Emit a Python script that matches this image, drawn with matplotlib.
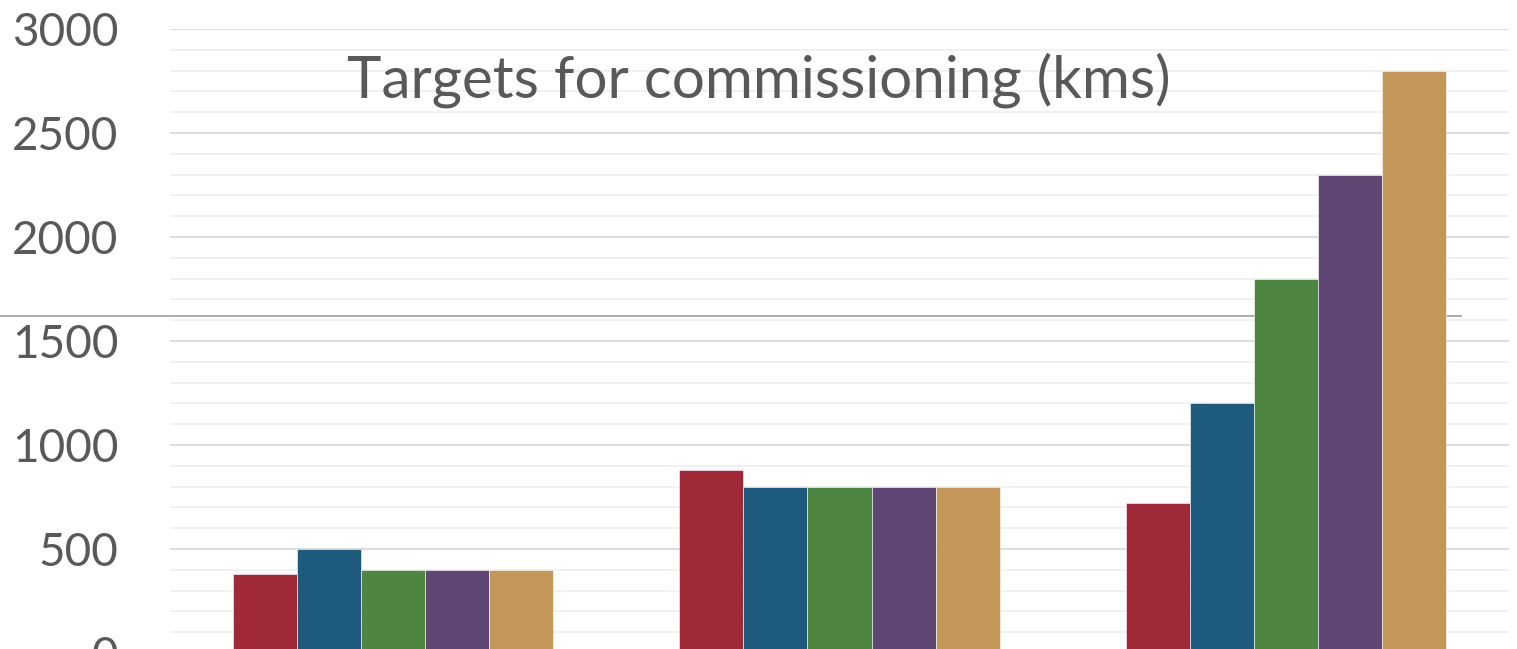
import matplotlib
matplotlib.use("Agg")
import matplotlib.pyplot as plt
from matplotlib.lines import Line2D
import numpy as np

plt.rcParams['font.family'] = ['Lato', 'DejaVu Sans']

# data
groups = ["A", "B", "C"]
series_names = ["S1", "S2", "S3", "S4", "S5"]
values = {
    "S1": [380, 880, 720],
    "S2": [500, 800, 1200],
    "S3": [400, 800, 1800],
    "S4": [400, 800, 2300],
    "S5": [400, 800, 2800],
}
colors = ["#9F2936", "#1E5A7C", "#4E8541", "#5E4774", "#C29757"]
title = "Targets for commissioning (kms)"
yticks = [0, 500, 1000, 1500, 2000, 2500, 3000]

W, H = 1517, 649
fig = plt.figure(figsize=(W / 100, H / 100), dpi=100)
y0 = 653  # pixel row of zero line (just below the picture)
y3000 = 29
ax = fig.add_axes([170 / W, (H - y0) / H, (1509 - 170) / W, (y0 - y3000) / H])
ax.set_facecolor("none")

x = np.arange(len(groups))
bw = 0.1434
for i, name in enumerate(series_names):
    ax.bar(x + (i - 2) * bw, values[name], width=bw, color=colors[i],
           edgecolor="white", linewidth=0.4, zorder=3)

ax.set_xlim(-0.5, 2.5)
ax.set_ylim(0, 3000)
ax.set_yticks(yticks)
ax.set_yticks(np.arange(0, 3001, 100), minor=True)
ax.tick_params(axis="y", which="both", length=0, labelsize=33, labelcolor="#595959", pad=37)
ax.set_xticks([])
ax.grid(axis="y", which="major", color="#d9d9d9", linewidth=1.3, zorder=0)
ax.grid(axis="y", which="minor", color="#f0f0f0", linewidth=1.3, zorder=0)
ax.set_axisbelow(True)
for s in ax.spines.values():
    s.set_visible(False)

# stray separator line across the picture
fig.add_artist(Line2D([0, 1461 / W], [(H - 316) / H, (H - 316) / H],
                      color="#a0a0a0", linewidth=1.2, zorder=-1))

fig.text(759 / W, (H - 80) / H, title, ha="center", va="center",
         fontsize=42, color="#595959")

fig.savefig("out.png", dpi=100)
